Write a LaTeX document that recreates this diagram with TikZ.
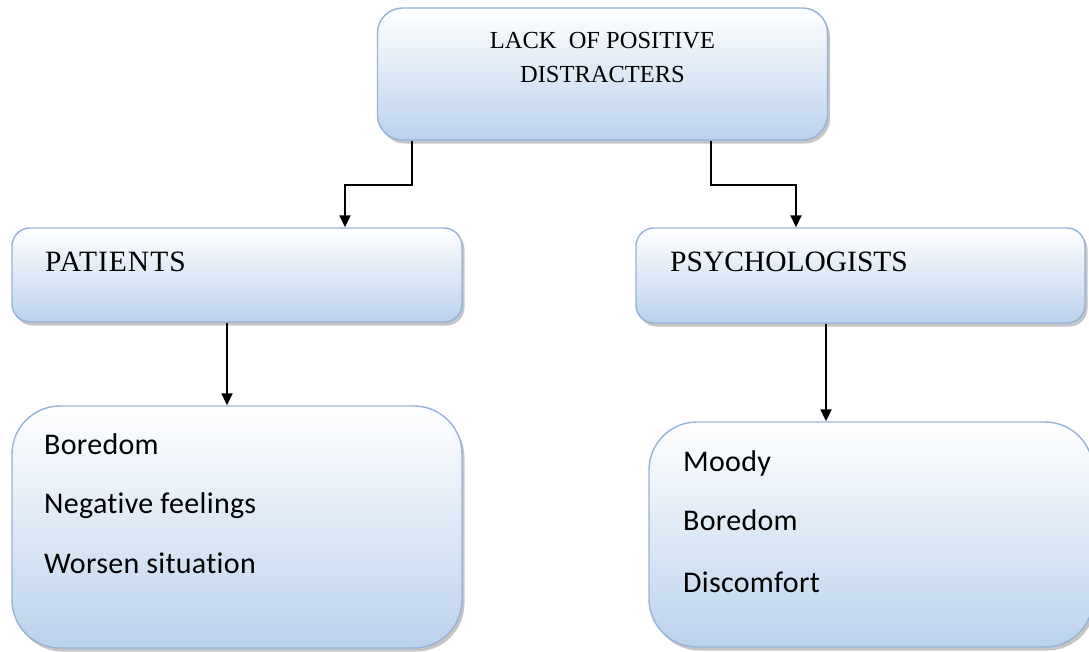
\documentclass[tikz,border=0pt]{standalone}
\usepackage{fontspec}
\setmainfont{Liberation Serif}
\newfontfamily\calibrifont[Ligatures=NoCommon,LetterSpace=1.0]{Carlito}
\newfontfamily\spacedserif[LetterSpace=3.5]{Liberation Serif}
\usetikzlibrary{arrows.meta,shadows,calc}
\definecolor{boxline}{RGB}{149,179,215}
\definecolor{boxblue}{RGB}{187,210,236}
\tikzset{
  box/.style={draw=boxline, line width=1.4pt, rectangle, inner sep=0pt,
    top color=white, bottom color=boxblue,
    drop shadow={shadow xshift=2.5pt, shadow yshift=-3.5pt, fill=black!45, opacity=0.5}},
  arr/.style={draw=black, line width=1.8pt, -{Triangle[length=12pt,width=11pt]}},
  headtxt/.style={font=\fontsize{24.5}{29}\selectfont, anchor=base, inner sep=0pt},
  midtxt/.style={font=\fontsize{29.5}{34}\selectfont, anchor=base west, inner sep=0pt},
  bodytxt/.style={font=\calibrifont\fontsize{30}{35}\selectfont, anchor=base west, inner sep=0pt}
}
\begin{document}
\begin{tikzpicture}[x=1pt,y=-1pt]
\useasboundingbox (0,0) rectangle (1089,651);
% boxes
\node[box, rounded corners=25pt, minimum width=450pt, minimum height=132pt] (top) at (602.5,74) {};
\node[box, rounded corners=18pt, minimum width=450pt, minimum height=94pt] (pat) at (237,275) {};
\node[box, rounded corners=18pt, minimum width=449pt, minimum height=95pt] (psy) at (860.5,275.5) {};
\node[box, rounded corners=48pt, minimum width=450pt, minimum height=242pt] (lb) at (237,527) {};
\node[box, rounded corners=48pt, minimum width=444pt, minimum height=225pt] (rb) at (871,534.5) {};
% texts
\node[headtxt] (t1) at (602.5,48) {LACK~ OF POSITIVE};
\node[headtxt] (t2) at (602.5,82) {DISTRACTERS};
\node[midtxt, font=\spacedserif\fontsize{29.5}{34}\selectfont] (t3) at (45,271) {PATIENTS};
\node[midtxt] (t4) at (670,271) {PSYCHOLOGISTS};
\node[bodytxt] (l1) at (44,454) {Boredom};
\node[bodytxt] (l2) at (44,513) {Negative feelings};
\node[bodytxt] (l3) at (44,573) {Worsen situation};
\node[bodytxt] (r1) at (683,471) {Moody};
\node[bodytxt] (r2) at (683,530) {Boredom};
\node[bodytxt] (r3) at (683,592) {Discomfort};
% connectors
\draw[arr] ([xshift=-190.5pt]top.south) -- ++(0,44) -| ([xshift=108pt]pat.north);
\draw[arr] ([xshift=108.5pt]top.south) -- ++(0,44) -| ([xshift=-64.5pt]psy.north);
\draw[arr] ([xshift=-10pt]pat.south) -- ([xshift=-10pt]lb.north);
\draw[arr] ([xshift=-34.5pt]psy.south) -- ([xshift=-34.5pt]psy.south |- rb.north);
\end{tikzpicture}
\end{document}
